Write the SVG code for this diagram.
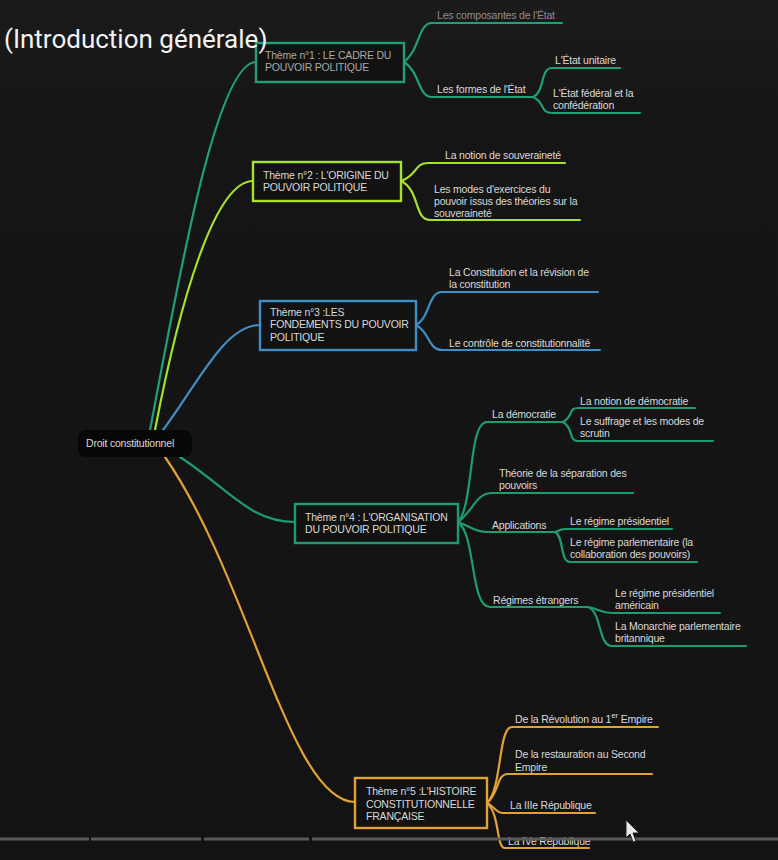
<svg xmlns="http://www.w3.org/2000/svg" width="778" height="860" viewBox="0 0 778 860">
<defs>
<linearGradient id="bg" x1="0" y1="0" x2="0" y2="1">
<stop offset="0" stop-color="#1c1b1b"/>
<stop offset="0.15" stop-color="#161515"/>
<stop offset="1" stop-color="#141313"/>
</linearGradient>
</defs>
<style>
text{font-family:"Liberation Sans",Arial,sans-serif;font-size:10.5px;fill:#d9d9d9;letter-spacing:-0.2px}
.dim{fill:#8c8c8c}
.c{fill:none;stroke-width:2.2;stroke-linecap:round}
.g1{stroke:#20a07a}.g2{stroke:#a6e12c}.g3{stroke:#3e8fc6}.g4{stroke:#1f9c6e}.g5{stroke:#e2a233}
.box{fill:#121212;stroke-width:2.4}
.title{font-family:Roboto,"Liberation Sans",sans-serif;font-size:26px;fill:#f2f2f2;letter-spacing:0}
</style>
<rect width="778" height="860" fill="url(#bg)"/>
<g id="connectors">
<path class="c g1" d="M150,430 C175,300 215,62 256,62"/>
<path class="c g2" d="M155,430 C180,300 215,181 253,181"/>
<path class="c g3" d="M163,430 C200,380 225,325 260,325"/>
<path class="c g4" d="M180,457 C230,490 250,522 295,522"/>
<path class="c g5" d="M165,457 C250,580 290,802 355,802"/>
<path class="c g1" d="M404,62 C420,50 418,23 432,23 L562,23"/>
<path class="c g1" d="M404,62 C420,72 418,97 432,97 L533,97"/>
<path class="c g1" d="M533,97 C545,92 540,68 552,68 L620,68"/>
<path class="c g1" d="M533,97 C545,102 540,113 552,113 L640,113"/>
<path class="c g2" d="M401,181 C418,175 414,163 428,163 L565,163"/>
<path class="c g2" d="M401,181 C420,190 414,220 430,220 L580,220"/>
<path class="c g3" d="M416,325 C430,318 428,292 442,292 L598,292"/>
<path class="c g3" d="M416,325 C430,332 428,350 442,350 L600,350"/>
<path class="c g4" d="M458,522 C474,505 468,422 487,422 L563,422"/>
<path class="c g4" d="M563,422 C574,416 568,408 578,408 L695,408"/>
<path class="c g4" d="M563,422 C574,428 568,441 578,441 L713,441"/>
<path class="c g4" d="M458,522 C474,510 476,493 492,493 L633,493"/>
<path class="c g4" d="M458,522 C470,526 474,532 487,532 L555,532"/>
<path class="c g4" d="M555,532 C562,530 560,529 566,529 L672,529"/>
<path class="c g4" d="M555,532 C564,536 560,562 570,562 L697,562"/>
<path class="c g4" d="M458,522 C476,535 470,607 490,607 L588,607"/>
<path class="c g4" d="M588,607 C600,609 600,613 612,613 L720,613"/>
<path class="c g4" d="M588,607 C602,612 598,646 612,646 L746,646"/>
<path class="c g5" d="M487,803 C502,790 498,727 512,727 L658,727"/>
<path class="c g5" d="M487,803 C500,792 496,774 508,774 L652,774"/>
<path class="c g5" d="M487,803 C494,806 496,813 503,813 L595,813"/>
<path class="c g5" d="M487,803 C500,814 496,848 505,848 L589,848"/>
</g>
<g id="root">
<rect x="78" y="430" width="114" height="27" rx="8" fill="#070707"/>
<text x="86" y="447">Droit constitutionnel</text>
</g>
<g id="theme1">
<rect class="box g1" x="256" y="43" width="148" height="39"/>
<text x="265" y="59" style="fill:#a8a8a8">Thème n°1 : LE CADRE DU</text>
<text x="265" y="71" style="fill:#a8a8a8">POUVOIR POLITIQUE</text>
</g>
<g id="t1a"><text class="dim" x="437" y="19">Les composantes de l'État</text></g>
<g id="t1b"><text x="437" y="93">Les formes de l'État</text></g>
<g id="t1b1"><text x="555" y="64">L'État unitaire</text></g>
<g id="t1b2"><text x="553" y="97">L'État fédéral et la</text><text x="553" y="109">confédération</text></g>
<g id="theme2">
<rect class="box g2" x="253" y="162" width="148" height="39"/>
<text x="263" y="179">Thème n°2 : L'ORIGINE DU</text>
<text x="263" y="191">POUVOIR POLITIQUE</text>
</g>
<g id="t2a"><text x="445" y="159">La notion de souveraineté</text></g>
<g id="t2b"><text x="434" y="193">Les modes d'exercices du</text><text x="434" y="205">pouvoir issus des théories sur la</text><text x="434" y="217">souveraineté</text></g>
<g id="theme3">
<rect class="box g3" x="260" y="301" width="156" height="49"/>
<text x="270" y="316">Thème n°3 :LES</text>
<text x="270" y="328">FONDEMENTS DU POUVOIR</text>
<text x="270" y="341">POLITIQUE</text>
</g>
<g id="t3a"><text x="449" y="276">La Constitution  et la révision de</text><text x="449" y="288">la constitution</text></g>
<g id="t3b"><text x="449" y="347">Le contrôle de constitutionnalité</text></g>
<g id="theme4">
<rect class="box g4" x="295" y="504" width="163" height="39"/>
<text x="305" y="521">Thème n°4 : L'ORGANISATION</text>
<text x="305" y="533">DU POUVOIR POLITIQUE</text>
</g>
<g id="t4a"><text x="492" y="418">La démocratie</text></g>
<g id="t4a1"><text x="580" y="405">La notion de démocratie</text></g>
<g id="t4a2"><text x="580" y="425">Le suffrage et les modes de</text><text x="580" y="437">scrutin</text></g>
<g id="t4b"><text x="499" y="477">Théorie de la séparation des</text><text x="499" y="489">pouvoirs</text></g>
<g id="t4c"><text x="492" y="529">Applications</text></g>
<g id="t4c1"><text x="570" y="525">Le régime présidentiel</text></g>
<g id="t4c2"><text x="570" y="546">Le régime parlementaire (la</text><text x="570" y="558">collaboration des pouvoirs)</text></g>
<g id="t4d"><text x="493" y="604">Régimes étrangers</text></g>
<g id="t4d1"><text x="615" y="597">Le régime présidentiel</text><text x="615" y="609">américain</text></g>
<g id="t4d2"><text x="615" y="630">La Monarchie parlementaire</text><text x="615" y="642">britannique</text></g>
<g id="theme5">
<rect class="box g5" x="355" y="778" width="132" height="50"/>
<text x="366" y="795">Thème n°5 :L'HISTOIRE</text>
<text x="366" y="808">CONSTITUTIONNELLE</text>
<text x="366" y="820">FRANÇAISE</text>
</g>
<g id="t5a"><text x="515" y="723">De la Révolution au 1<tspan dy="-5" font-size="8">er</tspan><tspan dy="5"> Empire</tspan></text></g>
<g id="t5b"><text x="515" y="758">De la restauration au Second</text><text x="515" y="771">Empire</text></g>
<g id="t5c"><text x="510" y="809">La IIIe République</text></g>
<g id="t5d"><text x="508" y="845">La IVe République</text></g>
<g id="progress" stroke="#5a5a5a" stroke-width="3">
<line x1="0" y1="839" x2="89" y2="839"/>
<line x1="91" y1="839" x2="201" y2="839"/>
<line x1="204" y1="839" x2="309" y2="839"/>
<line x1="312" y1="839" x2="778" y2="839"/>
</g>
<polygon points="626,820 626,838 630,834 633,842 636,841 633,833 639,833" fill="#e8e8e8" stroke="#222" stroke-width="1"/>
<text class="title" x="4" y="48">(Introduction générale)</text>
</svg>
